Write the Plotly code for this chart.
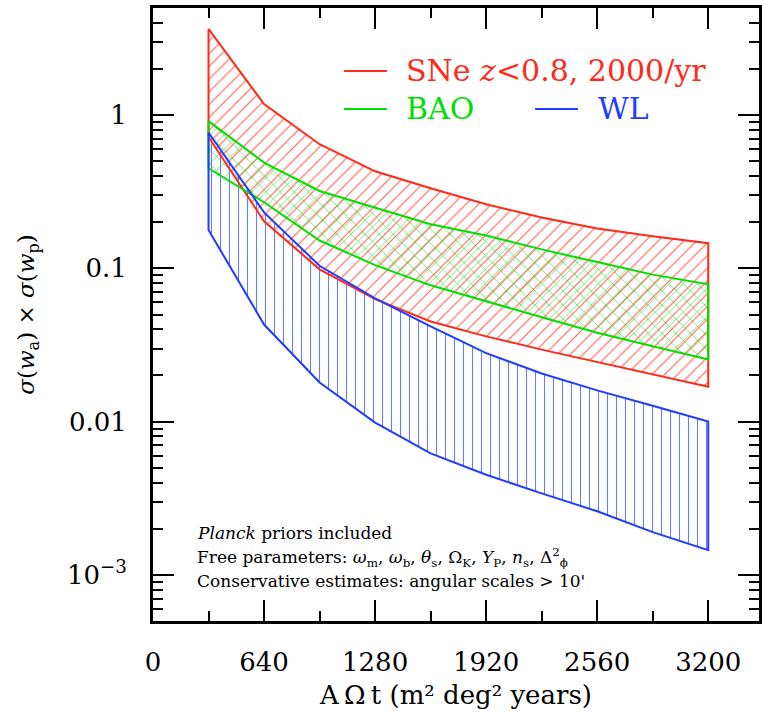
import plotly.graph_objects as go

# Survey size A·Ω·t (m^2 deg^2 years)
exposure = [320, 640, 960, 1280, 1600, 1920, 2240, 2560, 2880, 3200]

# sigma(w_a) x sigma(w_p): upper / lower envelope of each probe
sne_hi = [3.65, 1.18, 0.646, 0.43, 0.333, 0.262, 0.215, 0.182, 0.162, 0.146]
sne_lo = [0.72, 0.203, 0.0986, 0.063, 0.045, 0.036, 0.0295, 0.0244, 0.0203, 0.0169]
bao_hi = [0.914, 0.49, 0.32, 0.25, 0.194, 0.164, 0.133, 0.11, 0.091, 0.0786]
bao_lo = [0.45, 0.27, 0.152, 0.105, 0.0775, 0.061, 0.048, 0.038, 0.031, 0.0254]
wl_hi = [0.77, 0.232, 0.104, 0.0637, 0.0418, 0.028, 0.0206, 0.016, 0.0127, 0.01]
wl_lo = [0.178, 0.043, 0.018, 0.00986, 0.0062, 0.0045, 0.0034, 0.0026, 0.0019, 0.00145]

x_ticks = [0, 640, 1280, 1920, 2560, 3200]
x_minor = [320, 960, 1600, 2240, 2880]
y_ticks = [1e-3, 1e-2, 1e-1, 1]
y_labels = ["10<sup>\u22123</sup>", "0.01", "0.1", "1"]

RED = "#ff2a1a"
GREEN = "#00e000"
BLUE = "#1f3cff"
FONT = "DejaVu Serif"

bands = [
    (sne_hi, sne_lo, RED, "rgba(255,70,50,0.85)", "/", 9, 0.13),
    (bao_hi, bao_lo, GREEN, "rgba(30,215,30,0.9)", "x", 10, 0.13),
    (wl_hi, wl_lo, BLUE, "rgba(60,90,255,0.8)", "|", 9, 0.12),
]

fig = go.Figure()

# hatched regions
for hi, lo, col, hatch, shape, size, sol in bands:
    xs = exposure + exposure[::-1] + [exposure[0]]
    ys = hi + lo[::-1] + [hi[0]]
    fig.add_trace(go.Scatter(
        x=xs, y=ys, mode="lines", fill="toself",
        fillcolor="rgba(0,0,0,0)",
        fillpattern=dict(shape=shape, size=size, solidity=sol,
                         fgcolor=hatch, bgcolor="rgba(0,0,0,0)",
                         fillmode="replace"),
        line=dict(color="rgba(0,0,0,0)", width=0),
        hoverinfo="skip", showlegend=False,
    ))

# band outlines on top
for hi, lo, col, hatch, shape, size, sol in bands:
    xs = exposure + exposure[::-1] + [exposure[0]]
    ys = hi + lo[::-1] + [hi[0]]
    fig.add_trace(go.Scatter(
        x=xs, y=ys, mode="lines",
        line=dict(color=col, width=2),
        hoverinfo="skip", showlegend=False,
    ))

# pixel -> paper helpers for the in-plot key and notes
L, R, T, B = 153, 762, 8, 621
def px(v):
    return (v - L) / (R - L)
def py(v):
    return (B - v) / (B - T)

key = [
    (345, 388, 71, RED, "SNe <i>z</i>&lt;0.8, 2000/yr", 405),
    (345, 388, 109, GREEN, "BAO", 405),
    (537, 580, 109, BLUE, "WL", 598),
]
for x0, x1, yy, col, txt, tx in key:
    fig.add_shape(type="line", xref="paper", yref="paper",
                  x0=px(x0), x1=px(x1), y0=py(yy), y1=py(yy),
                  line=dict(color=col, width=2))
    fig.add_annotation(xref="paper", yref="paper", x=px(tx), y=py(yy),
                       xanchor="left", yanchor="middle", showarrow=False,
                       text=txt, font=dict(family=FONT, size=30, color=col))

notes = [
    (533, "<i>Planck</i> priors included"),
    (557, "Free parameters: <i>\u03c9</i><sub>m</sub>, <i>\u03c9</i><sub>b</sub>, "
          "<i>\u03b8</i><sub>s</sub>, \u03a9<sub>K</sub>, <i>Y</i><sub>P</sub>, "
          "<i>n</i><sub>s</sub>, \u0394<sup>2</sup><sub>\u03d5</sub>"),
    (581, "Conservative estimates: angular scales > 10'"),
]
for yy, txt in notes:
    fig.add_annotation(xref="paper", yref="paper", x=px(195), y=py(yy),
                       xanchor="left", yanchor="middle", showarrow=False,
                       text=txt, font=dict(family=FONT, size=17, color="black"))

axis_common = dict(
    showline=True, linecolor="black", linewidth=3, mirror="ticks",
    ticks="inside", tickcolor="black", tickwidth=2, ticklen=21,
    showgrid=False, zeroline=False,
    tickfont=dict(family=FONT, size=26, color="black"),
)

fig.update_xaxes(
    **axis_common,
    range=[0, 3492.5],
    tickmode="array", tickvals=x_ticks, ticktext=[str(v) for v in x_ticks],
    minor=dict(ticks="inside", ticklen=10, tickwidth=2, tickcolor="black",
               tickmode="array", tickvals=x_minor, showgrid=False),
    ticklabelstandoff=16,
    title=dict(text="A\u2009\u03a9\u2009t (m\u00b2 deg\u00b2 years)",
               font=dict(family=FONT, size=26, color="black"), standoff=10),
)

y_minor = [m * 10.0 ** e for e in range(-4, 1) for m in range(2, 10)]
y_minor = [v for v in y_minor if 5e-4 < v < 5.0001]
fig.update_yaxes(
    **axis_common,
    type="log", range=[-3.30103, 0.69897],
    tickmode="array", tickvals=y_ticks, ticktext=y_labels,
    minor=dict(ticks="inside", ticklen=10, tickwidth=2, tickcolor="black",
               tickmode="array", tickvals=y_minor, showgrid=False),
    ticklabelstandoff=18,
    title=dict(text="<i>\u03c3</i>(<i>w</i><sub>a</sub>) \u00d7 <i>\u03c3</i>(<i>w</i><sub>p</sub>)",
               font=dict(family=FONT, size=23, color="black"), standoff=26),
)

fig.update_layout(
    width=762, height=712,
    margin=dict(l=L, r=0, t=T, b=712 - B),
    paper_bgcolor="white", plot_bgcolor="white",
    showlegend=False,
)

fig.write_html("out.html")
